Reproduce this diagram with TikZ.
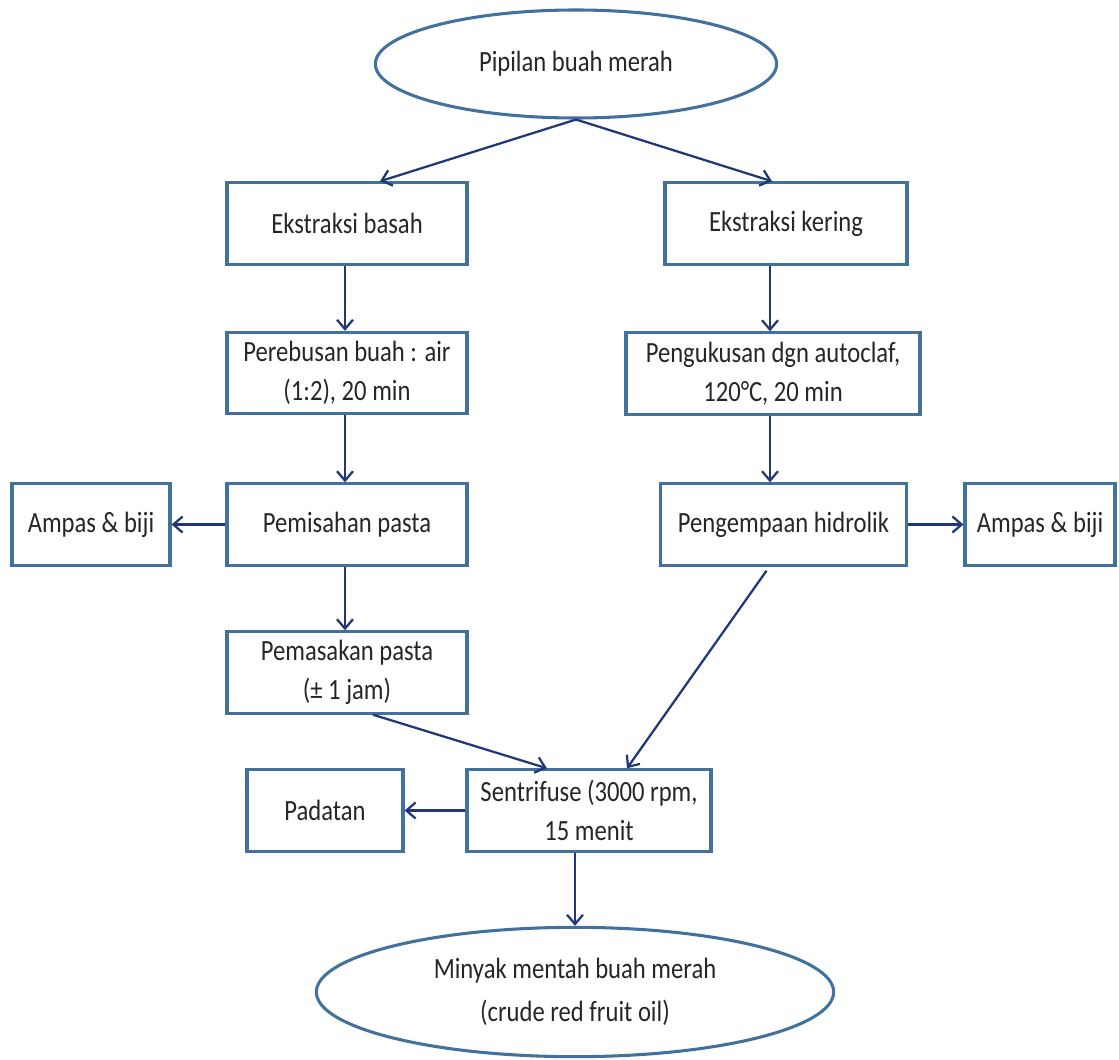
\documentclass[tikz,border=0pt]{standalone}
\usepackage{fontspec}
\setmainfont{Carlito}[FakeStretch=0.84]
\usetikzlibrary{arrows.meta,shapes.geometric,calc}
\definecolor{boxline}{RGB}{65,113,156}
\definecolor{flow}{RGB}{32,56,120}
\begin{document}
\begin{tikzpicture}[x=0.75pt,y=-0.75pt,
  every node/.style={font=\fontsize{22}{29.5}\selectfont, text=black!85, align=center, inner sep=0pt},
  stepbox/.style={draw=boxline, line width=2.3pt, rectangle, minimum height=61pt},
  endpoint/.style={draw=boxline, line width=2.3pt, ellipse},
  flowarrow/.style={draw=flow, line width=1.7pt, -{Straight Barb[length=7pt,width=12pt,line width=1.7pt]}}
]
\useasboundingbox (0,0) rectangle (1119,1059);

\node[endpoint, minimum width=301pt, minimum height=81pt] (pipilan) at (576,64) {Pipilan buah merah};

\node[stepbox, minimum width=180pt] (basah) at (347,223.5) {Ekstraksi basah};
\node[stepbox, minimum width=181.5pt] (kering) at (786,223.5) {Ekstraksi kering};

\node[stepbox, minimum width=180pt] (rebus) at (347,373) {Perebusan buah : air\\(1:2), 20 min};
\node[stepbox, minimum width=220.5pt] (kukus) at (773,373.5) {Pengukusan dgn autoclaf,\\120°C, 20 min};

\node[stepbox, minimum width=180pt] (pisah) at (347,524.5) {Pemisahan pasta};
\node[stepbox, minimum width=118.5pt] (ampasL) at (91,524.5) {Ampas \& biji};
\node[stepbox, minimum width=185pt] (kempa) at (783.5,524.5) {Pengempaan hidrolik};
\node[stepbox, minimum width=112.5pt] (ampasR) at (1040,524.5) {Ampas \& biji};

\node[stepbox, minimum width=180pt] (masak) at (347,672.5) {Pemasakan pasta\\(± 1 jam)};

\node[stepbox, minimum width=183pt] (sentri) at (589,810.5) {Sentrifuse (3000 rpm,\\15 menit};
\node[stepbox, minimum width=117pt] (padat) at (325,810.5) {Padatan};

\node[endpoint, minimum width=388pt, minimum height=97pt, font=\fontsize{22}{32}\selectfont] (minyak) at (575,992) {Minyak mentah buah merah\\(crude red fruit oil)};

% branches from the raw material
\draw[flowarrow] (pipilan.south) -- ($(basah.north)+(33,0)$);
\draw[flowarrow] (pipilan.south) -- ($(kering.north)+(-14,0)$);

% wet extraction line
\draw[flowarrow] ($(basah.south)+(-2,0)$) -- ($(rebus.north)+(-2,0)$);
\draw[flowarrow] ($(rebus.south)+(-2,0)$) -- ($(pisah.north)+(-2,0)$);
\draw[flowarrow] (pisah.west) -- (ampasL.east);
\draw[flowarrow] ($(pisah.south)+(-2,0)$) -- ($(masak.north)+(-2,0)$);
\draw[flowarrow] ($(masak.south)+(26,0)$) -- ($(sentri.north)+(-42,0)$);

% dry extraction line
\draw[flowarrow] ($(kering.south)+(-16,0)$) -- ($(kukus.north)+(-3,0)$);
\draw[flowarrow] ($(kukus.south)+(-3,0)$) -- ($(kempa.north)+(-13.5,0)$);
\draw[flowarrow] (kempa.east) -- (ampasR.west);
\draw[flowarrow] ($(kempa.south)+(-17,4)$) -- ($(sentri.north)+(38,0)$);

% centrifuge outputs
\draw[flowarrow] (sentri.west) -- (padat.east);
\draw[flowarrow] ($(sentri.south)+(-14,0)$) -- (minyak.north);
\end{tikzpicture}
\end{document}
